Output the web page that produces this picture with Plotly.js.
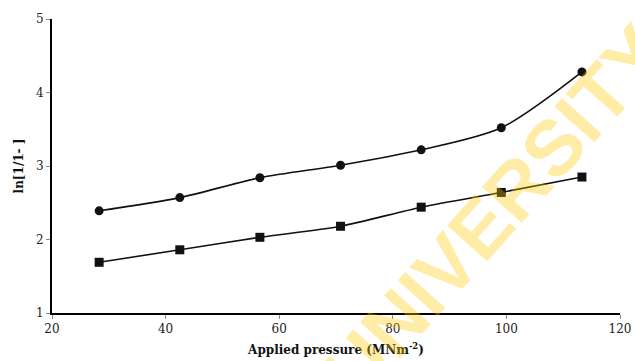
<!DOCTYPE html>
<html>
<head>
<meta charset="utf-8">
<script src="https://cdn.plot.ly/plotly-3.0.1.min.js"></script>
<style>html,body{margin:0;padding:0;background:#fff}#chart{width:635px;height:361px}</style>
</head>
<body>
<div id="chart"></div>
<script>
// Data
const pressure = [28.3, 42.5, 56.6, 70.8, 85.0, 99.1, 113.3];
const seriesCircle = [2.39, 2.57, 2.84, 3.01, 3.22, 3.52, 4.28];
const seriesSquare = [1.69, 1.86, 2.03, 2.18, 2.44, 2.64, 2.85];
const xTicks = [20, 40, 60, 80, 100, 120];
const yTicks = [1, 2, 3, 4, 5];

const lineStyle = {color: '#111', width: 1.6, shape: 'spline', smoothing: 0.8};

const traces = [
  {x: pressure, y: seriesCircle, type: 'scatter', mode: 'lines+markers',
   line: lineStyle, marker: {symbol: 'circle', size: 9, color: '#111'}, showlegend: false},
  {x: pressure, y: seriesSquare, type: 'scatter', mode: 'lines+markers',
   line: lineStyle, marker: {symbol: 'square', size: 9, color: '#111'}, showlegend: false}
];

const tickFont = {family: 'DejaVu Serif, serif', size: 12, color: '#222'};

const layout = {
  width: 635, height: 361,
  margin: {l: 52, r: 15, t: 19, b: 48},
  paper_bgcolor: '#fff', plot_bgcolor: '#fff',
  xaxis: {
    range: [20, 120], tickvals: xTicks, ticktext: xTicks.map(String),
    showgrid: false, zeroline: false, showline: true, linecolor: '#000', linewidth: 2,
    ticks: 'outside', ticklen: 4, tickcolor: '#888', tickwidth: 1,
    tickfont: tickFont,
    title: {text: 'Applied pressure (MNm<sup>-2</sup>)', standoff: 10,
            font: {family: 'DejaVu Serif, serif', size: 12, color: '#111', weight: 'bold'}}
  },
  yaxis: {
    range: [1, 5], tickvals: yTicks, ticktext: yTicks.map(String),
    showgrid: false, zeroline: false, showline: true, linecolor: '#000', linewidth: 2,
    ticks: 'outside', ticklen: 4, tickcolor: '#888', tickwidth: 1,
    tickfont: tickFont,
    title: {text: 'ln[1/1- ]', standoff: 10,
            font: {family: 'DejaVu Serif, serif', size: 12, color: '#111', weight: 'bold'}}
  },
  annotations: [{
    text: '<b>UNIVERSITY</b>', xref: 'paper', yref: 'paper', x: 0.78, y: 0.345,
    xanchor: 'center', yanchor: 'middle',
    showarrow: false, textangle: -48,
    font: {family: 'Liberation Sans, Arial, sans-serif', size: 78, color: 'rgba(255,200,0,0.35)'}
  }]
};

Plotly.newPlot('chart', traces, layout, {displayModeBar: false, staticPlot: true});
</script>
</body>
</html>
